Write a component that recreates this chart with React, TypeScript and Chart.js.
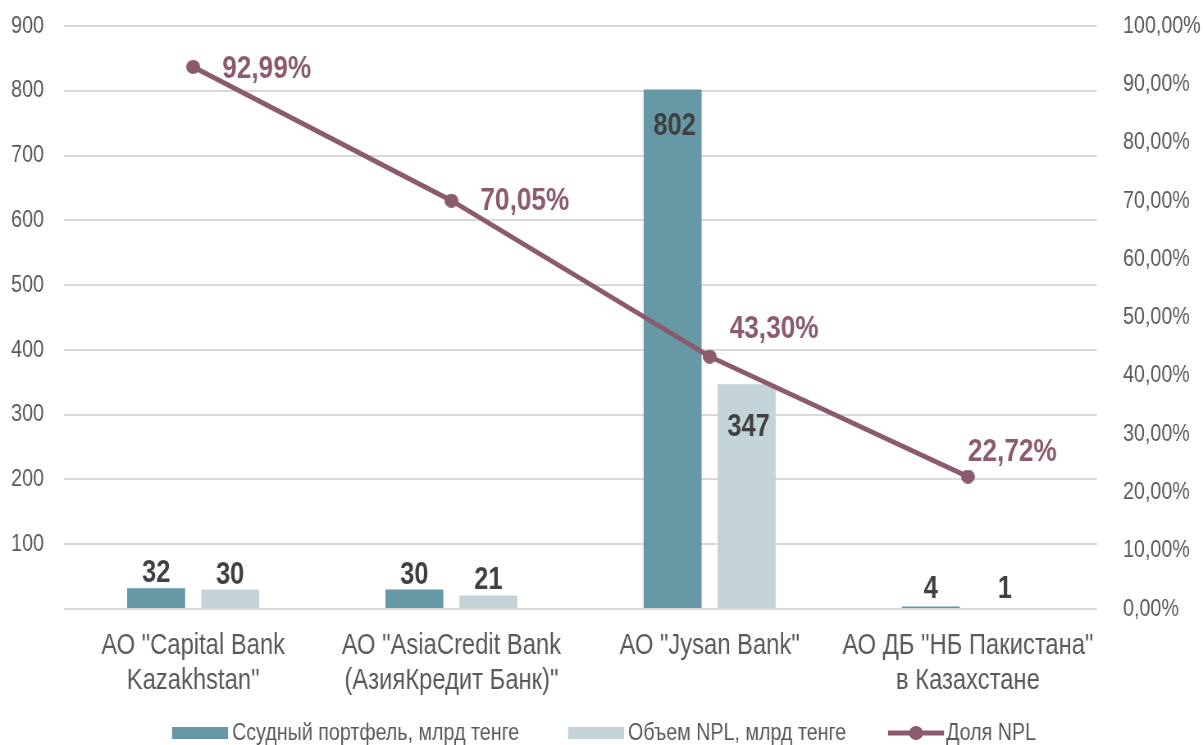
import React, { useEffect, useRef } from "react";
import { Chart, registerables } from "chart.js";

Chart.register(...registerables);

const categories: string[][] = [
  ['АО "Capital Bank', 'Kazakhstan"'],
  ['АО "AsiaCredit Bank', '(АзияКредит Банк)"'],
  ['АО "Jysan Bank"'],
  ['АО ДБ "НБ Пакистана"', 'в Казахстане'],
];
const loanPortfolio = [32, 30, 802, 4];
const nplVolume = [30, 21, 347, 1];
const nplShare = [92.99, 70.05, 43.3, 22.72];
const seriesNames = ["Ссудный портфель, млрд тенге", "Объем NPL, млрд тенге", "Доля NPL"];
const leftAxis = { min: 0, max: 900, step: 100 };
const rightAxis = { min: 0, max: 100, step: 10 };

// The reference uses a narrow face (Arial Narrow-like); emulate it by drawing on a wider
// canvas that is displayed horizontally compressed.
const K = 0.82;
const CSS_W = 1203;
const CSS_H = 745;
const W = Math.round(CSS_W / K);
const sx = (v: number) => v / K;

const FONT = '"Liberation Sans", Arial, sans-serif';
const TEAL = "#6798a6";
const GRAY = "#c4d3d7";
const MAROON = "#8b5a6e";
const TICK = "#595959";
const LABEL = "#404040";

// text offsets (dx to left edge, dy to middle; css px) of the share labels from their points
const shareLabelOffsets = [
  [29, 2],
  [29, 1],
  [20, -27],
  [0, -24],
];
// inside-end label offsets for tall bars, per bar series
const insideOffsets = [21, 28];

const fmtPct = (v: number) => v.toFixed(2).replace(".", ",") + "%";

function makeDot(r: number, color: string) {
  const c = document.createElement("canvas");
  const w = Math.round(sx(r * 2));
  const h = r * 2;
  c.width = w;
  c.height = h;
  const g = c.getContext("2d")!;
  g.fillStyle = color;
  g.beginPath();
  g.ellipse(w / 2, h / 2, w / 2, h / 2, 0, 0, Math.PI * 2);
  g.fill();
  return c;
}

const labelsPlugin = {
  id: "labelsPlugin",
  afterDatasetsDraw(chart: any) {
    const ctx = chart.ctx;
    ctx.save();
    [0, 1].forEach((di) => {
      const meta = chart.getDatasetMeta(di);
      const data = chart.data.datasets[di].data as number[];
      meta.data.forEach((bar: any, i: number) => {
        const h = bar.base - bar.y;
        ctx.font = `bold 31px ${FONT}`;
        ctx.fillStyle = LABEL;
        ctx.textAlign = "center";
        if (h > 80) {
          ctx.textBaseline = "top";
          ctx.fillText(String(data[i]), bar.x + sx(2), bar.y + insideOffsets[di]);
        } else {
          ctx.textBaseline = "alphabetic";
          ctx.fillText(String(data[i]), bar.x, Math.min(bar.y, bar.base - 4) - 6);
        }
      });
    });
    const lmeta = chart.getDatasetMeta(2);
    const ldata = chart.data.datasets[2].data as number[];
    lmeta.data.forEach((pt: any, i: number) => {
      const [dx, dy] = shareLabelOffsets[i];
      ctx.font = `bold 32px ${FONT}`;
      ctx.fillStyle = MAROON;
      ctx.textAlign = "left";
      ctx.textBaseline = "middle";
      ctx.fillText(fmtPct(ldata[i]), pt.x + sx(dx), pt.y + dy);
    });
    ctx.restore();
  },
  afterDraw(chart: any) {
    const ctx = chart.ctx;
    ctx.save();
    const y = 733;
    ctx.font = `24px ${FONT}`;
    ctx.textAlign = "left";
    ctx.textBaseline = "middle";
    ctx.fillStyle = TEAL;
    ctx.fillRect(sx(172), y - 6, sx(56), 12);
    ctx.fillStyle = TICK;
    ctx.fillText(seriesNames[0], sx(232), y);
    ctx.fillStyle = GRAY;
    ctx.fillRect(sx(568), y - 6, sx(56), 12);
    ctx.fillStyle = TICK;
    ctx.fillText(seriesNames[1], sx(628), y);
    ctx.strokeStyle = MAROON;
    ctx.lineWidth = 5;
    ctx.beginPath();
    ctx.moveTo(sx(888), y);
    ctx.lineTo(sx(944), y);
    ctx.stroke();
    ctx.fillStyle = MAROON;
    ctx.beginPath();
    ctx.ellipse(sx(916), y, sx(7), 7, 0, 0, Math.PI * 2);
    ctx.fill();
    ctx.fillStyle = TICK;
    ctx.fillText(seriesNames[2], sx(946), y);
    ctx.restore();
  },
};

const noPad = (s: any) => {
  s.paddingTop = 0;
  s.paddingBottom = 0;
  s.paddingLeft = 0;
  s.paddingRight = 0;
};

export default function App() {
  const ref = useRef<HTMLCanvasElement | null>(null);
  useEffect(() => {
    if (!ref.current) return;
    const dot = makeDot(7, MAROON);
    const chart = new Chart(ref.current, {
      type: "bar",
      data: {
        labels: categories as any,
        datasets: [
          {
            type: "bar",
            label: seriesNames[0],
            data: loanPortfolio,
            backgroundColor: TEAL,
            yAxisID: "y",
            order: 2,
            categoryPercentage: 0.573,
            barPercentage: 0.784,
          },
          {
            type: "bar",
            label: seriesNames[1],
            data: nplVolume,
            backgroundColor: GRAY,
            yAxisID: "y",
            order: 2,
            categoryPercentage: 0.573,
            barPercentage: 0.784,
          },
          {
            type: "line",
            label: seriesNames[2],
            data: nplShare,
            borderColor: MAROON,
            backgroundColor: MAROON,
            borderWidth: 5,
            pointStyle: dot as any,
            pointRadius: 7,
            yAxisID: "y1",
            order: 0,
            clip: false as any,
          } as any,
        ],
      },
      options: {
        animation: false,
        responsive: false,
        maintainAspectRatio: false,
        devicePixelRatio: 1,
        layout: { padding: { top: 26, left: 0, right: 0, bottom: 0 } },
        plugins: {
          legend: { display: false },
          tooltip: { enabled: false },
        },
        scales: {
          x: {
            grid: { display: false, drawTicks: false },
            border: { display: false },
            ticks: {
              color: TICK,
              font: { family: FONT, size: 29 },
              padding: 20,
              maxRotation: 0,
              autoSkip: false,
            },
            afterFit: (s: any) => {
              s.height = CSS_H - 26 - 583;
              noPad(s);
            },
          },
          y: {
            position: "left",
            min: leftAxis.min,
            max: leftAxis.max,
            ticks: {
              stepSize: leftAxis.step,
              color: TICK,
              font: { family: FONT, size: 24 },
              padding: sx(20),
              callback: (v: any) => (v === 0 ? "" : String(v)),
            },
            grid: { color: "#d9d9d9", lineWidth: 2, drawTicks: false },
            border: { display: false },
            afterFit: (s: any) => {
              s.width = sx(64);
              noPad(s);
            },
          },
          y1: {
            position: "right",
            min: rightAxis.min,
            max: rightAxis.max,
            ticks: {
              stepSize: rightAxis.step,
              color: TICK,
              font: { family: FONT, size: 24 },
              padding: sx(26),
              callback: (v: any) => fmtPct(Number(v)),
            },
            grid: { display: false, drawTicks: false },
            border: { display: false },
            afterFit: (s: any) => {
              s.width = sx(106);
              noPad(s);
            },
          },
        },
      },
      plugins: [labelsPlugin],
    });
    return () => chart.destroy();
  }, []);
  return (
    <div style={{ position: "fixed", left: 0, top: 0, width: CSS_W, height: CSS_H, background: "#fff", overflow: "hidden" }}>
      <canvas ref={ref} width={W} height={CSS_H} style={{ width: CSS_W, height: CSS_H, display: "block" }} />
    </div>
  );
}
